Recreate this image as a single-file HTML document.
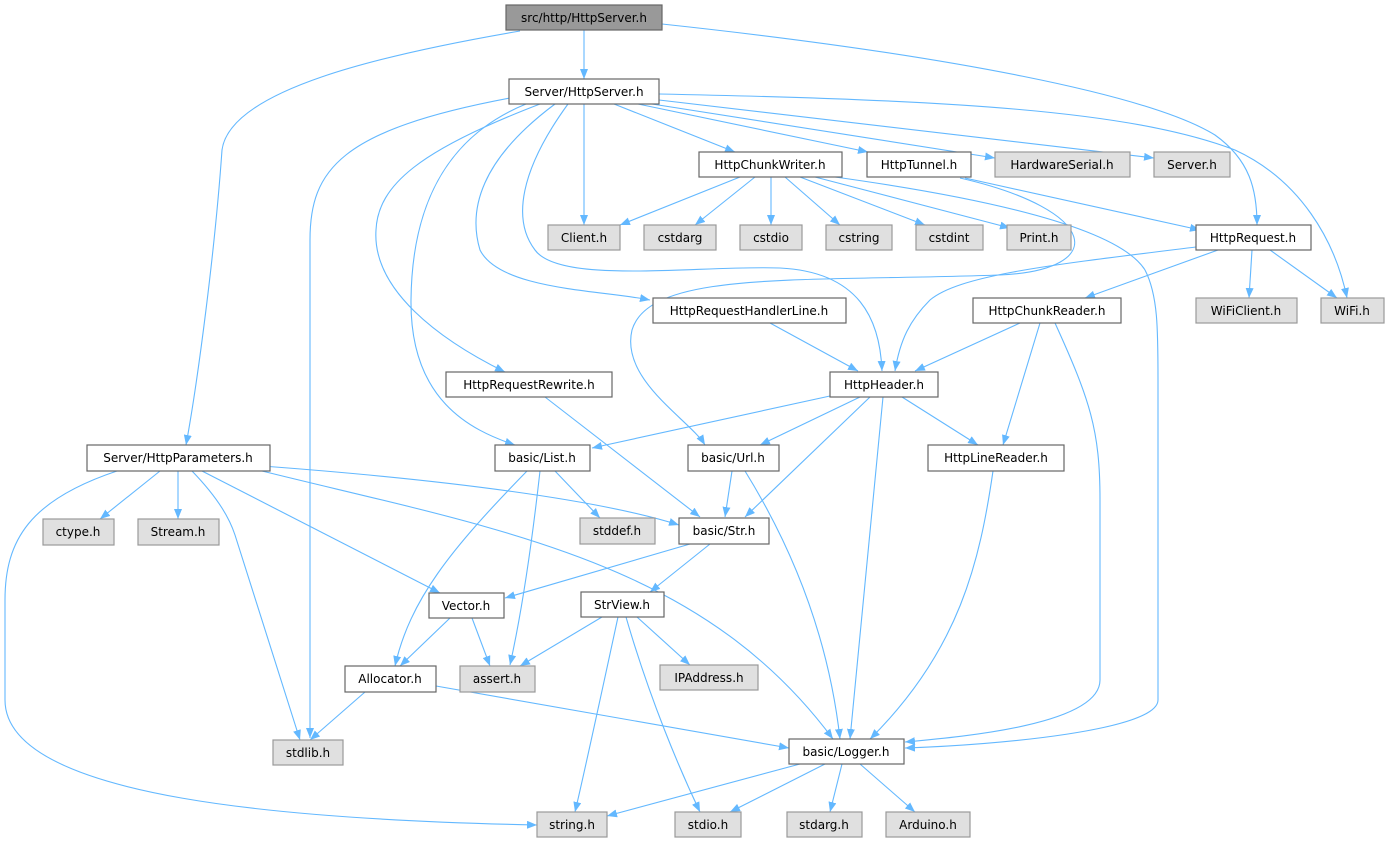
<!DOCTYPE html>
<html><head><meta charset="utf-8"><style>
html,body{margin:0;padding:0;background:#fff;}
svg{display:block;}
text{font-family:"DejaVu Sans","Liberation Sans",sans-serif;font-size:12px;fill:#000;}
.e{fill:none;stroke:#63b8ff;stroke-width:1.1;}
.n rect{fill:#fff;stroke:#666;stroke-width:1.2;}
.g rect{fill:#e0e0e0;stroke:#999;stroke-width:1.2;}
</style></head><body>
<svg width="1389" height="843" viewBox="0 0 1389 843" xmlns="http://www.w3.org/2000/svg">
<defs><marker id="a" markerUnits="userSpaceOnUse" markerWidth="11" markerHeight="8" refX="10" refY="4" orient="auto"><path d="M0,0 L10,4 L0,8 z" fill="#63b8ff"/></marker></defs>
<g marker-end="url(#a)">
<path class="e" d="M584,30 L584,79"/>
<path class="e" d="M520,31 C380,55 230,90 222,150 C215,250 198,380 186,445"/>
<path class="e" d="M662,24 C950,55 1150,95 1215,135 C1250,160 1257,190 1257,225"/>
<path class="e" d="M584,104 L584,225"/>
<path class="e" d="M614,104 L735,152"/>
<path class="e" d="M638,104 L868,152"/>
<path class="e" d="M652,104 L995,158"/>
<path class="e" d="M659,100 L1154,158"/>
<path class="e" d="M659,94 C950,100 1130,110 1235,150 C1300,180 1335,240 1347,298"/>
<path class="e" d="M510,98 C340,130 310,170 310,240 L310,738"/>
<path class="e" d="M526,104 C450,135 412,200 411,300 C410,400 470,430 515,445"/>
<path class="e" d="M540,104 C420,150 378,185 376,230 C372,290 440,340 505,372"/>
<path class="e" d="M555,104 C480,160 468,210 480,250 C500,290 600,290 650,300"/>
<path class="e" d="M568,104 C520,170 512,220 535,250 C560,285 700,265 780,268 C860,272 880,320 882,371"/>
<path class="e" d="M740,177 L620,225"/>
<path class="e" d="M755,177 L695,225"/>
<path class="e" d="M771,177 L771,225"/>
<path class="e" d="M785,177 L840,225"/>
<path class="e" d="M800,177 L925,225"/>
<path class="e" d="M815,177 L1010,228"/>
<path class="e" d="M835,177 C1000,200 1120,230 1145,270 C1158,295 1158,330 1158,380 L1158,700 C1158,730 1000,745 905,748"/>
<path class="e" d="M965,178 L1200,230"/>
<path class="e" d="M960,178 C1100,210 1110,270 1000,275 C800,282 650,270 632,330 C620,380 690,420 705,445"/>
<path class="e" d="M1196,247 C1050,265 960,275 930,300 C910,320 900,340 895,371"/>
<path class="e" d="M1218,250 L1085,298"/>
<path class="e" d="M1252,250 L1249,298"/>
<path class="e" d="M1270,250 L1337,298"/>
<path class="e" d="M1020,323 L915,371"/>
<path class="e" d="M1040,323 L1003,445"/>
<path class="e" d="M1055,323 C1090,400 1100,430 1100,500 L1100,680 C1100,725 960,737 905,742"/>
<path class="e" d="M770,323 L858,371"/>
<path class="e" d="M545,397 L700,517"/>
<path class="e" d="M830,396 L592,448"/>
<path class="e" d="M860,397 L760,445"/>
<path class="e" d="M870,397 L745,517"/>
<path class="e" d="M883,397 L850,739"/>
<path class="e" d="M902,397 L978,445"/>
<path class="e" d="M732,471 L725,517"/>
<path class="e" d="M745,471 C800,560 830,650 840,739"/>
<path class="e" d="M993,471 C980,560 960,650 870,739"/>
<path class="e" d="M555,471 L600,518"/>
<path class="e" d="M540,471 C530,560 520,620 510,665"/>
<path class="e" d="M527,471 C450,550 410,600 395,666"/>
<path class="e" d="M160,471 L100,519"/>
<path class="e" d="M178,471 L178,519"/>
<path class="e" d="M192,471 C220,500 230,520 235,535 L300,740"/>
<path class="e" d="M202,471 L440,593"/>
<path class="e" d="M262,471 C500,530 700,560 833,739"/>
<path class="e" d="M262,466 C450,480 600,500 679,525"/>
<path class="e" d="M117,471 C30,500 5,540 5,600 L5,700 C5,800 300,820 537,825"/>
<path class="e" d="M690,544 L505,598"/>
<path class="e" d="M710,544 L650,592"/>
<path class="e" d="M450,618 L400,666"/>
<path class="e" d="M472,618 L490,666"/>
<path class="e" d="M602,617 L520,666"/>
<path class="e" d="M618,617 C600,700 585,770 575,812"/>
<path class="e" d="M626,617 C650,700 680,770 700,812"/>
<path class="e" d="M637,617 L690,665"/>
<path class="e" d="M365,692 L310,740"/>
<path class="e" d="M436,686 L789,748"/>
<path class="e" d="M800,764 L607,816"/>
<path class="e" d="M825,764 L730,812"/>
<path class="e" d="M842,764 L830,812"/>
<path class="e" d="M860,764 L915,812"/>
</g>
<g text-anchor="middle">
<g><rect x="506" y="5" width="156" height="25" fill="#999" stroke="#666" stroke-width="1.2"/><text x="584" y="22">src/http/HttpServer.h</text></g>
<g class="n"><rect x="509" y="79" width="150" height="25"/><text x="584" y="96">Server/HttpServer.h</text></g>
<g class="n"><rect x="699" y="152" width="143" height="25"/><text x="770" y="169">HttpChunkWriter.h</text></g>
<g class="n"><rect x="867" y="152" width="104" height="25"/><text x="919" y="169">HttpTunnel.h</text></g>
<g class="g"><rect x="995" y="152" width="135" height="25"/><text x="1062" y="169">HardwareSerial.h</text></g>
<g class="g"><rect x="1154" y="152" width="76" height="25"/><text x="1192" y="169">Server.h</text></g>
<g class="g"><rect x="548" y="225" width="72" height="25"/><text x="584" y="242">Client.h</text></g>
<g class="g"><rect x="644" y="225" width="72" height="25"/><text x="680" y="242">cstdarg</text></g>
<g class="g"><rect x="740" y="225" width="62" height="25"/><text x="771" y="242">cstdio</text></g>
<g class="g"><rect x="826" y="225" width="66" height="25"/><text x="859" y="242">cstring</text></g>
<g class="g"><rect x="916" y="225" width="67" height="25"/><text x="949" y="242">cstdint</text></g>
<g class="g"><rect x="1007" y="225" width="64" height="25"/><text x="1039" y="242">Print.h</text></g>
<g class="n"><rect x="1196" y="225" width="115" height="25"/><text x="1253" y="242">HttpRequest.h</text></g>
<g class="n"><rect x="653" y="298" width="193" height="25"/><text x="749" y="315">HttpRequestHandlerLine.h</text></g>
<g class="n"><rect x="973" y="298" width="148" height="25"/><text x="1047" y="315">HttpChunkReader.h</text></g>
<g class="g"><rect x="1196" y="298" width="101" height="25"/><text x="1246" y="315">WiFiClient.h</text></g>
<g class="g"><rect x="1321" y="298" width="63" height="25"/><text x="1352" y="315">WiFi.h</text></g>
<g class="n"><rect x="446" y="372" width="166" height="25"/><text x="529" y="389">HttpRequestRewrite.h</text></g>
<g class="n"><rect x="830" y="372" width="108" height="25"/><text x="884" y="389">HttpHeader.h</text></g>
<g class="n"><rect x="87" y="445" width="183" height="26"/><text x="178" y="462">Server/HttpParameters.h</text></g>
<g class="n"><rect x="495" y="445" width="95" height="26"/><text x="542" y="462">basic/List.h</text></g>
<g class="n"><rect x="688" y="445" width="91" height="26"/><text x="733" y="462">basic/Url.h</text></g>
<g class="n"><rect x="928" y="445" width="136" height="26"/><text x="996" y="462">HttpLineReader.h</text></g>
<g class="g"><rect x="43" y="519" width="71" height="26"/><text x="78" y="536">ctype.h</text></g>
<g class="g"><rect x="138" y="519" width="81" height="26"/><text x="178" y="536">Stream.h</text></g>
<g class="g"><rect x="580" y="518" width="75" height="26"/><text x="617" y="535">stddef.h</text></g>
<g class="n"><rect x="679" y="518" width="90" height="26"/><text x="724" y="535">basic/Str.h</text></g>
<g class="n"><rect x="429" y="593" width="75" height="25"/><text x="466" y="610">Vector.h</text></g>
<g class="n"><rect x="581" y="592" width="83" height="25"/><text x="622" y="609">StrView.h</text></g>
<g class="n"><rect x="345" y="666" width="91" height="26"/><text x="390" y="683">Allocator.h</text></g>
<g class="g"><rect x="460" y="666" width="75" height="26"/><text x="497" y="683">assert.h</text></g>
<g class="g"><rect x="660" y="665" width="98" height="25"/><text x="709" y="682">IPAddress.h</text></g>
<g class="g"><rect x="273" y="740" width="70" height="25"/><text x="308" y="757">stdlib.h</text></g>
<g class="n"><rect x="789" y="739" width="115" height="25"/><text x="846" y="756">basic/Logger.h</text></g>
<g class="g"><rect x="537" y="812" width="70" height="25"/><text x="572" y="829">string.h</text></g>
<g class="g"><rect x="675" y="812" width="66" height="25"/><text x="708" y="829">stdio.h</text></g>
<g class="g"><rect x="787" y="812" width="75" height="25"/><text x="824" y="829">stdarg.h</text></g>
<g class="g"><rect x="886" y="812" width="84" height="25"/><text x="928" y="829">Arduino.h</text></g>
</g>
</svg>
</body></html>
